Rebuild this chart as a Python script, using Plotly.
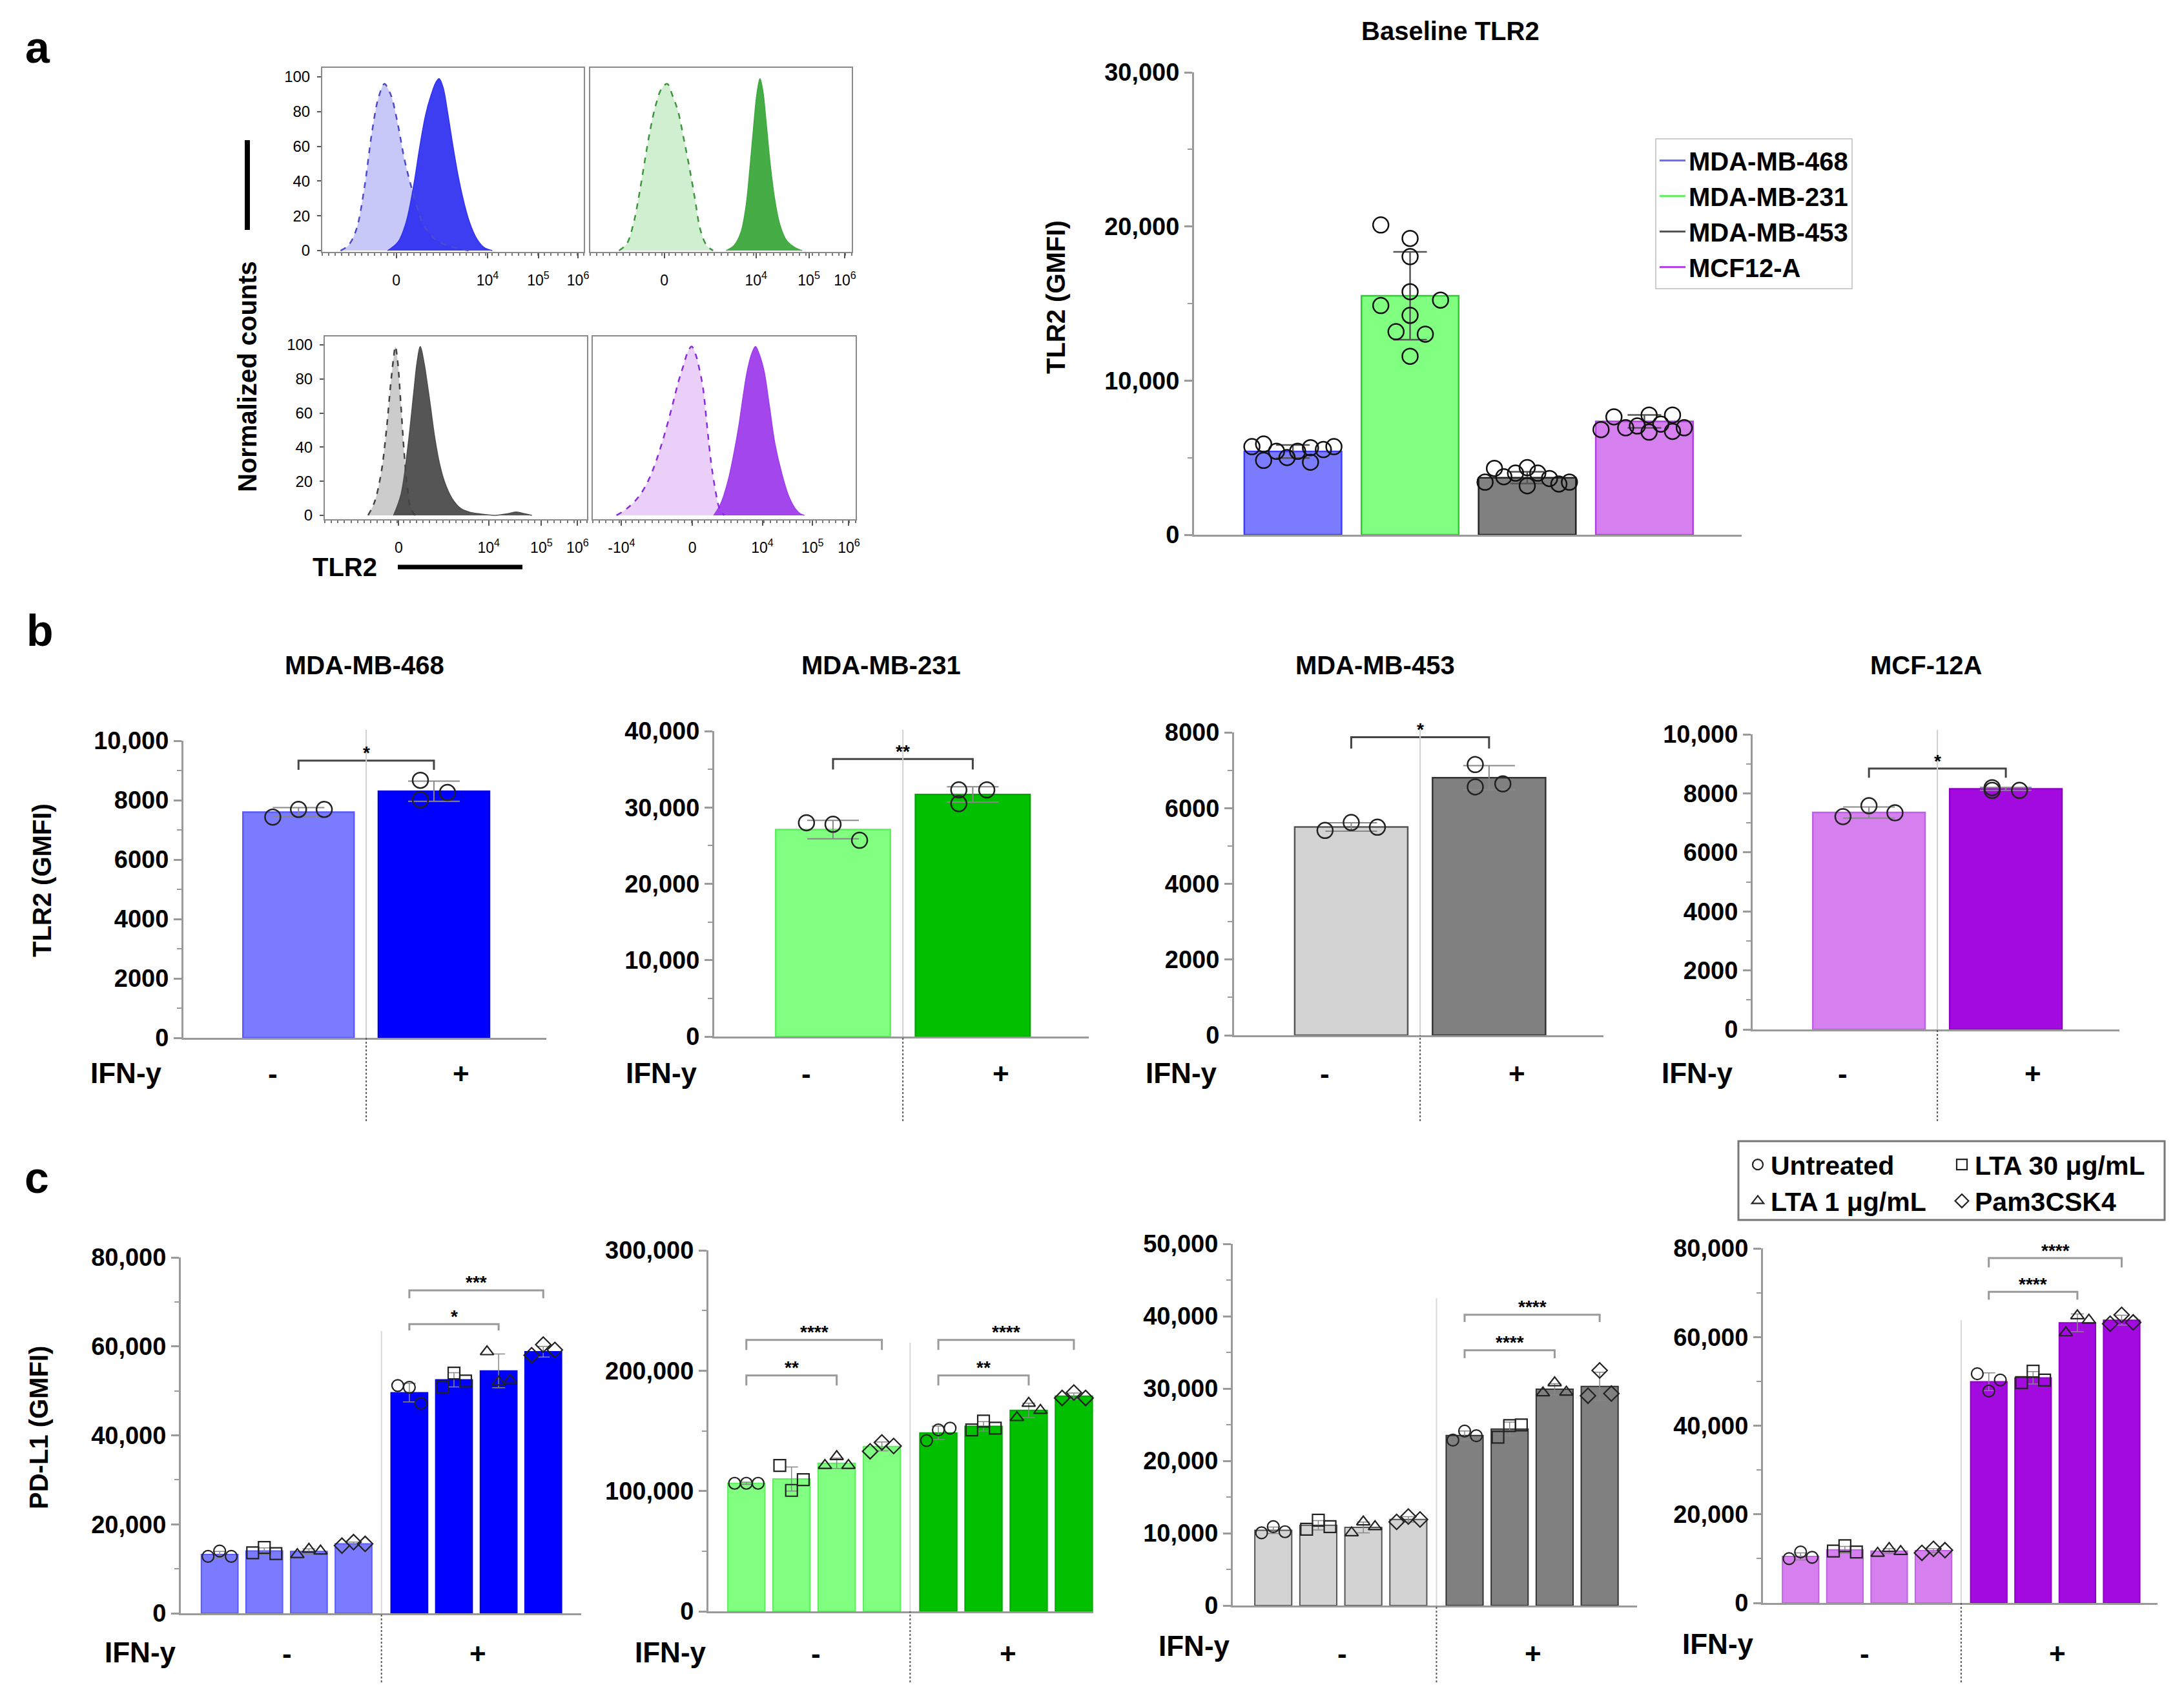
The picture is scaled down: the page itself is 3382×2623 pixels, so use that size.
import plotly.graph_objects as go

W0, H0 = 3382, 2623
OFF = 8  # default page body margin of the html page
W, H = W0 - OFF, H0 - OFF
FONT = "Liberation Sans, Arial, Helvetica, sans-serif"

# ======================= DATA =======================
# ---- Panel a: flow histograms (display channel 0-1000 vs normalized counts)
h468_iso_x = [70, 100, 130, 160, 190, 215, 238, 252, 266, 290, 315, 340, 365, 383, 415, 447, 500, 560]
h468_iso_y = [0, 3, 12, 35, 68, 88, 96, 93, 88, 72, 52, 37, 24, 16, 9, 5, 2, 0]
h468_tlr_x = [250, 290, 320, 350, 372, 395, 415, 435, 447, 462, 479, 500, 521, 543, 564, 590, 617, 650]
h468_tlr_y = [0, 5, 16, 38, 59, 78, 89, 97, 99, 94, 80, 60, 42, 27, 16, 7, 2, 0]
h231_iso_x = [110, 140, 166, 188, 209, 230, 251, 272, 294, 315, 336, 358, 379, 400, 421, 445, 470]
h231_iso_y = [0, 4, 16, 33, 52, 70, 84, 93, 96, 89, 80, 64, 48, 30, 12, 3, 0]
h231_tlr_x = [520, 550, 575, 595, 612, 625, 637, 649, 660, 672, 688, 705, 725, 750, 780, 810]
h231_tlr_y = [0, 3, 10, 25, 50, 72, 90, 99, 92, 75, 50, 30, 15, 6, 2, 0]
h453_iso_x = [165, 190, 215, 235, 250, 262, 269, 278, 290, 302, 315, 328, 345]
h453_iso_y = [0, 8, 25, 50, 75, 92, 99, 90, 65, 38, 16, 4, 0]
h453_tlr_x = [262, 290, 318, 339, 352, 364, 378, 392, 403, 420, 438, 456, 485, 519, 550, 583, 650, 700, 731, 760, 790]
h453_tlr_y = [0, 12, 42, 72, 90, 99, 90, 76, 64, 45, 30, 20, 10, 4, 2, 1, 0, 1, 2, 1, 0]
hmcf_iso_x = [90, 130, 175, 210, 239, 270, 302, 325, 345, 362, 376, 392, 405, 419, 435, 450, 466, 482, 500]
hmcf_iso_y = [0, 4, 11, 20, 31, 46, 64, 78, 88, 96, 99, 94, 86, 75, 52, 31, 15, 4, 0]
hmcf_tlr_x = [460, 487, 514, 535, 556, 572, 588, 605, 619, 632, 651, 672, 693, 720, 746, 770, 789, 805]
hmcf_tlr_y = [0, 7, 20, 35, 53, 70, 85, 95, 99, 95, 85, 64, 42, 24, 11, 4, 1, 0]

hist_ticks_468 = [283, 632, 826, 978]
hist_ticks_231 = [283, 634, 836, 974]
hist_ticks_453 = [282, 625, 826, 964]
hist_ticks_mcf = [109, 379, 645, 836, 974]
hist_ticktext = ["0", "10<sup>4</sup>", "10<sup>5</sup>", "10<sup>6</sup>"]
hist_ticktext_mcf = ["-10<sup>4</sup>", "0", "10<sup>4</sup>", "10<sup>5</sup>", "10<sup>6</sup>"]
hist_yticks = [0, 20, 40, 60, 80, 100]

# ---- Panel a: baseline TLR2 bar chart
base_cells = ["MDA-MB-468", "MDA-MB-231", "MDA-MB-453", "MCF12-A"]
base_mean = [5400, 15500, 3700, 7350]
base_sd = [420, 2850, 380, 420]
base_pts_468 = [5718, 5882, 4824, 5412, 5012, 5412, 5647, 4706, 5529, 5718]
base_pts_231 = [20100, 19224, 18047, 15765, 14871, 15224, 14235, 13176, 13012, 11576]
base_pts_453 = [3412, 4306, 3765, 4000, 4353, 3176, 4000, 3647, 3294, 3412]
base_pts_mcf = [6824, 7647, 6941, 7059, 7765, 6659, 7176, 7765, 6706, 6941]
base_yticks = [0, 10000, 20000, 30000]

# ---- Panel b: TLR2 +/- IFN-y
b_titles = ["MDA-MB-468", "MDA-MB-231", "MDA-MB-453", "MCF-12A"]
b_mean_468 = [7600, 8300]
b_mean_231 = [27100, 31700]
b_mean_453 = [5500, 6800]
b_mean_mcf = [7350, 8150]
b_sd_468 = [150, 340]
b_sd_231 = [1200, 1000]
b_sd_453 = [110, 320]
b_sd_mcf = [190, 50]
b_pts_468 = [[7430, 7690, 7690], [8670, 8020, 8260]]
b_pts_231 = [[28000, 27800, 25700], [30500, 32300, 32300]]
b_pts_453 = [[5410, 5620, 5495], [6560, 7150, 6640]]
b_pts_mcf = [[7210, 7580, 7340], [8100, 8190, 8100]]
b_sig = ["*", "**", "*", "*"]
b_yticks_468 = [0, 2000, 4000, 6000, 8000, 10000]
b_yticks_231 = [0, 10000, 20000, 30000, 40000]
b_yticks_453 = [0, 2000, 4000, 6000, 8000]
b_yticks_mcf = [0, 2000, 4000, 6000, 8000, 10000]

# ---- Panel c: PD-L1 with TLR2 agonists +/- IFN-y
treatments = ["Untreated", "LTA 30 μg/mL", "LTA 1 μg/mL", "Pam3CSK4"]
c_mean_468 = [13200, 14000, 13900, 15600, 49600, 52500, 54500, 58800]
c_mean_231 = [106400, 110000, 123000, 137000, 148300, 153700, 167000, 178800]
c_mean_453 = [10400, 11100, 10800, 11900, 23500, 24400, 29900, 30300]
c_mean_mcf = [10500, 12000, 11700, 11800, 49900, 50800, 63200, 63800]
c_sd_468 = [700, 700, 600, 400, 2100, 1600, 3800, 1200]
c_sd_231 = [1000, 10000, 4300, 3700, 5600, 3900, 6000, 2600]
c_sd_453 = [450, 650, 750, 370, 630, 950, 780, 1950]
c_sd_mcf = [800, 750, 550, 450, 2000, 1400, 2000, 1100]
c_pts_468 = [[12800, 14000, 12800], [13600, 14800, 13400], [13200, 14400, 14000], [15200, 16000, 15600],
             [51200, 50800, 47200], [50800, 54000, 52200], [58800, 52000, 52400], [58000, 60400, 59200]]
c_pts_231 = [[106400, 106400, 106400], [121200, 100500, 109400], [121200, 128600, 121200], [133000, 140400, 137400],
             [141900, 150700, 152200], [150700, 158100, 152200], [161000, 172900, 167000], [177300, 181800, 177300]]
c_pts_453 = [[10050, 10900, 10200], [10550, 11800, 10900], [10050, 11560, 10900], [11560, 12300, 11900],
             [22860, 24120, 23470], [23270, 24870, 24970], [29400, 30800, 29500], [29000, 32500, 29300]]
c_pts_mcf = [[10000, 11500, 10300], [11700, 12900, 11500], [11200, 12300, 11600], [11300, 12200, 11900],
             [51700, 47800, 50300], [49700, 52300, 50300], [60960, 64800, 63800], [63000, 65000, 63300]]
c_yticks_468 = [0, 20000, 40000, 60000, 80000]
c_yticks_231 = [0, 100000, 200000, 300000]
c_yticks_453 = [0, 10000, 20000, 30000, 40000, 50000]
c_yticks_mcf = [0, 20000, 40000, 60000, 80000]
# significance brackets: (first bar, last bar, top, leg end, label)
c_sig_468 = [(4, 7, 72600, 70800, "***"), (4, 6, 65000, 63600, "*")]
c_sig_231 = [(0, 3, 225500, 217200, "****"), (0, 2, 196000, 187700, "**"),
             (4, 7, 225500, 217200, "****"), (4, 6, 196000, 187700, "**")]
c_sig_453 = [(4, 7, 40200, 39200, "****"), (4, 6, 35300, 34200, "****")]
c_sig_mcf = [(4, 7, 77800, 75700, "****"), (4, 6, 70200, 68400, "****")]

# ======================= STYLE / GEOMETRY =======================
COL = {
    "468": ("#7B7BFF", "#0000FF"),
    "231": ("#80FF80", "#00C000"),
    "453": ("#D3D3D3", "#808080"),
    "mcf": ("#D580EE", "#A30AE0"),
}
LINECOL = {
    "468": ("#5a5aff", "#0000dd"),
    "231": ("#5cf05c", "#00a800"),
    "453": ("#555555", "#333333"),
    "mcf": ("#c060e6", "#8f00c8"),
}
AX = "#9a9a9a"

base_jit_468 = [-0.35, -0.25, -0.25, -0.14, -0.05, 0.04, 0.15, 0.15, 0.26, 0.35]
base_jit_231 = [-0.25, 0, 0, 0, -0.25, 0.26, 0, -0.12, 0.13, 0]
base_jit_453 = [-0.36, -0.28, -0.2, -0.1, 0, 0, 0.09, 0.19, 0.27, 0.36]
base_jit_mcf = [-0.37, -0.26, -0.16, -0.06, 0.04, 0.04, 0.14, 0.24, 0.24, 0.34]
b_jit = [[-0.19, 0.0, 0.19], [-0.1, -0.1, 0.1]]
c_jit = [-0.26, 0.0, 0.26]
c_pos = [0, 1, 2, 3, 4.25, 5.25, 6.25, 7.25]


def px(x):
    return (x - OFF) / W


def py(y):
    return 1 - (y - OFF) / H


def fmt(v):
    return f"{v:,}" if v >= 10000 else f"{v}"


def bfont(size, bold=True, color="black"):
    d = dict(family=FONT, size=size, color=color)
    if bold:
        d["weight"] = "bold"
    return d


def ptext(x, y, text, size, angle=0, bold=True):
    return dict(x=px(x), y=py(y), xref="paper", yref="paper", text=text, showarrow=False,
                xanchor="center", yanchor="middle", textangle=angle, font=bfont(size, bold))


fig = go.Figure()
layout = dict(width=W, height=H, margin=dict(l=0, r=0, t=0, b=0, pad=0, autoexpand=False),
              paper_bgcolor="white", plot_bgcolor="white",
              font=dict(family=FONT, color="black"), showlegend=True)
annotations = []
shapes = []


def ax_names(n):
    return ("x" if n == 1 else f"x{n}", "y" if n == 1 else f"y{n}",
            "xaxis" if n == 1 else f"xaxis{n}", "yaxis" if n == 1 else f"yaxis{n}")


# ---------------- Panel a histograms ----------------
hist_specs = [
    (1, h468_iso_x, h468_iso_y, h468_tlr_x, h468_tlr_y, hist_ticks_468, hist_ticktext,
     (499, 904, 105, 390), (-0.74, 105.2), True,
     "rgba(180,180,245,0.75)", "#4b4bd0", "rgba(45,45,240,0.92)"),
    (2, h231_iso_x, h231_iso_y, h231_tlr_x, h231_tlr_y, hist_ticks_231, hist_ticktext,
     (914, 1319, 105, 390), (-0.74, 105.2), False,
     "rgba(200,235,200,0.85)", "#3c963c", "rgba(60,168,60,0.95)"),
    (3, h453_iso_x, h453_iso_y, h453_tlr_x, h453_tlr_y, hist_ticks_453, hist_ticktext,
     (503, 909, 521, 804), (-2.3, 104.9), True,
     "rgba(195,195,195,0.85)", "#444444", "rgba(70,70,70,0.92)"),
    (4, hmcf_iso_x, hmcf_iso_y, hmcf_tlr_x, hmcf_tlr_y, hist_ticks_mcf, hist_ticktext_mcf,
     (918, 1325, 521, 804), (-2.3, 104.9), False,
     "rgba(230,200,247,0.85)", "#8a2be2", "rgba(155,55,235,0.92)"),
]
for (n, ix, iy, tx, ty, tv, tt, box, yr, ylab, isofill, isoline, tlrfill) in hist_specs:
    xr, yr_, xk, yk = ax_names(n)
    fig.add_trace(go.Scatter(x=ix, y=iy, mode="lines", fill="tozeroy", fillcolor=isofill,
                             line=dict(color=isoline, width=0, shape="spline"), xaxis=xr, yaxis=yr_,
                             showlegend=False, hoverinfo="skip"))
    fig.add_trace(go.Scatter(x=tx, y=ty, mode="lines", fill="tozeroy", fillcolor=tlrfill,
                             line=dict(color=tlrfill, width=1.5, shape="spline"), xaxis=xr, yaxis=yr_,
                             showlegend=False, hoverinfo="skip"))
    fig.add_trace(go.Scatter(x=ix, y=iy, mode="lines",
                             line=dict(color=isoline, width=2.5, dash="dash", shape="spline"),
                             xaxis=xr, yaxis=yr_, showlegend=False, hoverinfo="skip"))
    layout[xk] = dict(domain=[px(box[0]), px(box[1])], range=[0, 1000], anchor=yr_,
                      showline=True, mirror=True, linecolor="#8a8a8a", linewidth=2,
                      ticks="outside", ticklen=8, tickwidth=2, tickcolor="#555",
                      tickvals=tv, ticktext=tt, tickfont=bfont(23, bold=False),
                      ticklabelstandoff=14, automargin=False,
                      minor=dict(ticks="outside", ticklen=4, dtick=25, tickcolor="#777", tickwidth=1.5),
                      showgrid=False, zeroline=False)
    layout[yk] = dict(domain=[py(box[3]), py(box[2])], range=list(yr), anchor=xr,
                      showline=True, mirror=True, linecolor="#8a8a8a", linewidth=2,
                      ticks="outside" if ylab else "", ticklen=6, tickwidth=2, tickcolor="#555",
                      tickvals=hist_yticks, showticklabels=ylab, tickfont=bfont(24, bold=False),
                      ticklabelstandoff=6, automargin=False, showgrid=False, zeroline=False)

# ---------------- Panel a bar chart ----------------
n = 5
xr, yr_, xk, yk = ax_names(n)
pal = [COL["468"][0], COL["231"][0], COL["453"][1], COL["mcf"][0]]
lpal = ["#3c3cff", "#2ecc2e", "#222222", "#b040e0"]
fig.add_trace(go.Bar(x=[0, 1, 2, 3], y=base_mean, width=0.83,
                     marker=dict(color=pal, line=dict(color=lpal, width=2.5)),
                     error_y=dict(type="data", array=base_sd, color="#555", thickness=2.5, width=26),
                     xaxis=xr, yaxis=yr_, showlegend=False, hoverinfo="skip"))
for i, (pts, jit) in enumerate([(base_pts_468, base_jit_468), (base_pts_231, base_jit_231),
                                (base_pts_453, base_jit_453), (base_pts_mcf, base_jit_mcf)]):
    fig.add_trace(go.Scatter(x=[i + j for j in jit], y=pts, mode="markers",
                             marker=dict(symbol="circle-open", size=24, color="#111",
                                         line=dict(width=2.5, color="#111")),
                             xaxis=xr, yaxis=yr_, showlegend=False, cliponaxis=False, hoverinfo="skip"))
leg_a_colors = ["#6b6bff", "#66ee66", "#555555", "#b844e8"]
for name, c in zip(base_cells, leg_a_colors):
    fig.add_trace(go.Scatter(x=[None], y=[None], mode="lines", line=dict(color=c, width=3),
                             name=name, legend="legend", xaxis=xr, yaxis=yr_))
layout[xk] = dict(domain=[px(1849), px(2697)], range=[-0.844, 3.83], anchor=yr_,
                  showline=True, linecolor=AX, linewidth=3, showticklabels=False, ticks="",
                  automargin=False, showgrid=False, zeroline=False)
layout[yk] = dict(domain=[py(828), py(112)], range=[0, 30000], anchor=xr,
                  showline=True, linecolor=AX, linewidth=3, ticks="outside", ticklen=12,
                  tickwidth=3, tickcolor=AX, tickvals=base_yticks,
                  ticktext=[fmt(v) for v in base_yticks], tickfont=bfont(38), automargin=False,
                  minor=dict(ticks="outside", ticklen=7, dtick=5000, tickcolor=AX, tickwidth=2),
                  showgrid=False, zeroline=False)

# ---------------- Panel b ----------------
b_specs = [
    (6, "468", b_mean_468, b_sd_468, b_pts_468, b_yticks_468, 1000, (284, 846, 1607, 1147),
     (9330, 9020), 564, 195),
    (7, "231", b_mean_231, b_sd_231, b_pts_231, b_yticks_231, 5000, (1106, 1686, 1605, 1132),
     (36350, 34960), 1364, 1024),
    (8, "453", b_mean_453, b_sd_453, b_pts_453, b_yticks_453, 1000, (1911, 2483, 1603, 1134),
     (7870, 7575), 2129, 1829),
    (9, "mcf", b_mean_mcf, b_sd_mcf, b_pts_mcf, b_yticks_mcf, 1000, (2714, 3282, 1594, 1137),
     (8840, 8530), 2982, 2628),
]
for k, (n, key, mean, sd, pts, yt, minor, geo, br, tx, ifnx) in enumerate(b_specs):
    xr, yr_, xk, yk = ax_names(n)
    fig.add_trace(go.Bar(x=[0, 1], y=mean, width=0.82,
                         marker=dict(color=list(COL[key]), line=dict(color=list(LINECOL[key]), width=2.5)),
                         error_y=dict(type="data", array=sd, color="#888", thickness=2, width=40),
                         xaxis=xr, yaxis=yr_, showlegend=False, hoverinfo="skip"))
    for g in range(2):
        fig.add_trace(go.Scatter(x=[g + j for j in b_jit[g]], y=pts[g], mode="markers",
                                 marker=dict(symbol="circle-open", size=24, color="#222",
                                             line=dict(width=2.5, color="#222")),
                                 xaxis=xr, yaxis=yr_, showlegend=False, cliponaxis=False,
                                 hoverinfo="skip"))
    fig.add_trace(go.Scatter(x=[0, 0, 1, 1], y=[br[1], br[0], br[0], br[1]], mode="lines",
                             line=dict(color="#444", width=3), xaxis=xr, yaxis=yr_,
                             showlegend=False, cliponaxis=False, hoverinfo="skip"))
    annotations.append(dict(x=0.5, y=br[0], xref=xr, yref=yr_, text=b_sig[k], showarrow=False,
                            xanchor="center", yanchor="middle", yshift=12, font=bfont(28)))
    layout[xk] = dict(domain=[px(geo[0]), px(geo[1])], range=[-0.85, 1.83], anchor=yr_,
                      showline=True, linecolor=AX, linewidth=3, showticklabels=False, ticks="",
                      automargin=False, showgrid=False, zeroline=False)
    layout[yk] = dict(domain=[py(geo[2]), py(geo[3])], range=[0, yt[-1]], anchor=xr,
                      showline=True, linecolor=AX, linewidth=3, ticks="outside", ticklen=12,
                      tickwidth=3, tickcolor=AX, tickvals=yt, ticktext=[fmt(v) for v in yt],
                      tickfont=bfont(38), automargin=False,
                      minor=dict(ticks="outside", ticklen=7, dtick=minor, tickcolor=AX, tickwidth=2),
                      showgrid=False, zeroline=False)
    annotations.append(ptext(tx, 1030, b_titles[k], 40))
    annotations.append(ptext(ifnx, 1661, "IFN-y", 44))
    annotations.append(dict(x=-0.19, y=py(1662), xref=xr, yref="paper", text="-", showarrow=False,
                            xanchor="center", yanchor="middle", font=bfont(44)))
    annotations.append(dict(x=1.2, y=py(1662), xref=xr, yref="paper", text="+", showarrow=False,
                            xanchor="center", yanchor="middle", font=bfont(44)))
    shapes.append(dict(type="line", xref=xr, yref="paper", x0=0.5, x1=0.5,
                       y0=py(geo[2]), y1=py(1130), line=dict(color="#d0d0d0", width=2)))
    shapes.append(dict(type="line", xref=xr, yref="paper", x0=0.5, x1=0.5,
                       y0=py(1736), y1=py(geo[2]), line=dict(color="#555", width=2, dash="dot")))

# ---------------- Panel c ----------------
symbols = ["circle-open", "square-open", "triangle-up-open", "diamond-open"]
c_specs = [
    (10, "468", c_mean_468, c_sd_468, c_pts_468, c_yticks_468, 10000, (280, 900, 2498, 1947),
     (-0.87, 8.1), c_sig_468, 2061, (444, 740), (217, 2558)),
    (11, "231", c_mean_231, c_sd_231, c_pts_231, c_yticks_231, 50000, (1097, 1693, 2495, 1936),
     (-0.84, 7.68), c_sig_231, 2079, (1263, 1561), (1038, 2558)),
    (12, "453", c_mean_453, c_sd_453, c_pts_453, c_yticks_453, 5000, (1909, 2535, 2486, 1926),
     (-0.90, 8.08), c_sig_453, 2010, (2078, 2374), (1850, 2548)),
    (13, "mcf", c_mean_mcf, c_sd_mcf, c_pts_mcf, c_yticks_mcf, 10000, (2730, 3341, 2482, 1933),
     (-0.85, 8.06), c_sig_mcf, 2044, (2887, 3186), (2660, 2545)),
]
for k, (n, key, mean, sd, pts, yt, minor, geo, xrng, sig, divtop, pm, ifn) in enumerate(c_specs):
    xr, yr_, xk, yk = ax_names(n)
    cols = [COL[key][0]] * 4 + [COL[key][1]] * 4
    lcols = [LINECOL[key][0]] * 4 + [LINECOL[key][1]] * 4
    fig.add_trace(go.Bar(x=c_pos, y=mean, width=0.82,
                         marker=dict(color=cols, line=dict(color=lcols, width=2)),
                         error_y=dict(type="data", array=sd, color="#888", thickness=1.5, width=10),
                         xaxis=xr, yaxis=yr_, showlegend=False, hoverinfo="skip"))
    for t in range(4):
        xs = [c_pos[t] + j for j in c_jit] + [c_pos[t + 4] + j for j in c_jit]
        ys = pts[t] + pts[t + 4]
        fig.add_trace(go.Scatter(x=xs, y=ys, mode="markers", name=treatments[t],
                                 marker=dict(symbol=symbols[t], size=18, color="#222",
                                             line=dict(width=2.2, color="#222")),
                                 xaxis=xr, yaxis=yr_, cliponaxis=False, hoverinfo="skip",
                                 showlegend=(k == 0),
                                 legend="legend2" if t in (0, 2) else "legend3"))
    for (a, b, top, leg, lab) in sig:
        fig.add_trace(go.Scatter(x=[c_pos[a], c_pos[a], c_pos[b], c_pos[b]], y=[leg, top, top, leg],
                                 mode="lines", line=dict(color="#9a9a9a", width=3), xaxis=xr, yaxis=yr_,
                                 showlegend=False, cliponaxis=False, hoverinfo="skip"))
        annotations.append(dict(x=(c_pos[a] + c_pos[b]) / 2, y=top, xref=xr, yref=yr_, text=lab,
                                showarrow=False, xanchor="center", yanchor="middle", yshift=12,
                                font=bfont(28)))
    layout[xk] = dict(domain=[px(geo[0]), px(geo[1])], range=list(xrng), anchor=yr_,
                      showline=True, linecolor=AX, linewidth=3, showticklabels=False, ticks="",
                      automargin=False, showgrid=False, zeroline=False)
    layout[yk] = dict(domain=[py(geo[2]), py(geo[3])], range=[0, yt[-1]], anchor=xr,
                      showline=True, linecolor=AX, linewidth=3, ticks="outside", ticklen=12,
                      tickwidth=3, tickcolor=AX, tickvals=yt, ticktext=[fmt(v) for v in yt],
                      tickfont=bfont(38), automargin=False,
                      minor=dict(ticks="outside", ticklen=7, dtick=minor, tickcolor=AX, tickwidth=2),
                      showgrid=False, zeroline=False)
    annotations.append(ptext(pm[0], 2560, "-", 44))
    annotations.append(ptext(pm[1], 2560, "+", 44))
    annotations.append(ptext(ifn[0], ifn[1], "IFN-y", 44))
    shapes.append(dict(type="line", xref=xr, yref="paper", x0=3.625, x1=3.625,
                       y0=py(geo[2]), y1=py(divtop), line=dict(color="#d8d8d8", width=2)))
    shapes.append(dict(type="line", xref=xr, yref="paper", x0=3.625, x1=3.625,
                       y0=py(2605), y1=py(geo[2]), line=dict(color="#555", width=2, dash="dot")))

# ---------------- Free text & decorations ----------------
for (xx, yy, t) in [(58, 73, "a"), (62, 976, "b"), (57, 1823, "c")]:
    annotations.append(ptext(xx, yy, t, 68))
annotations.append(ptext(383, 583, "Normalized counts", 40, angle=-90))
annotations.append(ptext(534, 878, "TLR2", 40))
annotations.append(ptext(2246, 48, "Baseline TLR2", 40))
annotations.append(ptext(1635, 460, "TLR2 (GMFI)", 40, angle=-90))
annotations.append(ptext(65, 1363, "TLR2 (GMFI)", 40, angle=-90))
annotations.append(ptext(60, 2211, "PD-L1 (GMFI)", 40, angle=-90))
shapes.append(dict(type="line", xref="paper", yref="paper", x0=px(383), x1=px(383),
                   y0=py(217), y1=py(356), line=dict(color="black", width=8)))
shapes.append(dict(type="line", xref="paper", yref="paper", x0=px(616), x1=px(809),
                   y0=py(878), y1=py(878), line=dict(color="black", width=7)))
shapes.append(dict(type="rect", xref="paper", yref="paper", x0=px(2692), x1=px(3352),
                   y0=py(1889), y1=py(1767), line=dict(color="#777", width=3)))

layout["legend"] = dict(x=px(2563), y=py(214), xanchor="left", yanchor="top", bgcolor="white",
                        bordercolor="#cccccc", borderwidth=2, font=bfont(40), tracegroupgap=0,
                        itemwidth=40)
layout["legend2"] = dict(x=px(2702), y=py(1770), xanchor="left", yanchor="top",
                         bgcolor="rgba(0,0,0,0)", borderwidth=0, font=bfont(41), tracegroupgap=0)
layout["legend3"] = dict(x=px(3018), y=py(1770), xanchor="left", yanchor="top",
                         bgcolor="rgba(0,0,0,0)", borderwidth=0, font=bfont(41), tracegroupgap=0)
layout["annotations"] = annotations
layout["shapes"] = shapes
fig.update_layout(**layout)
fig.write_html("out.html")
